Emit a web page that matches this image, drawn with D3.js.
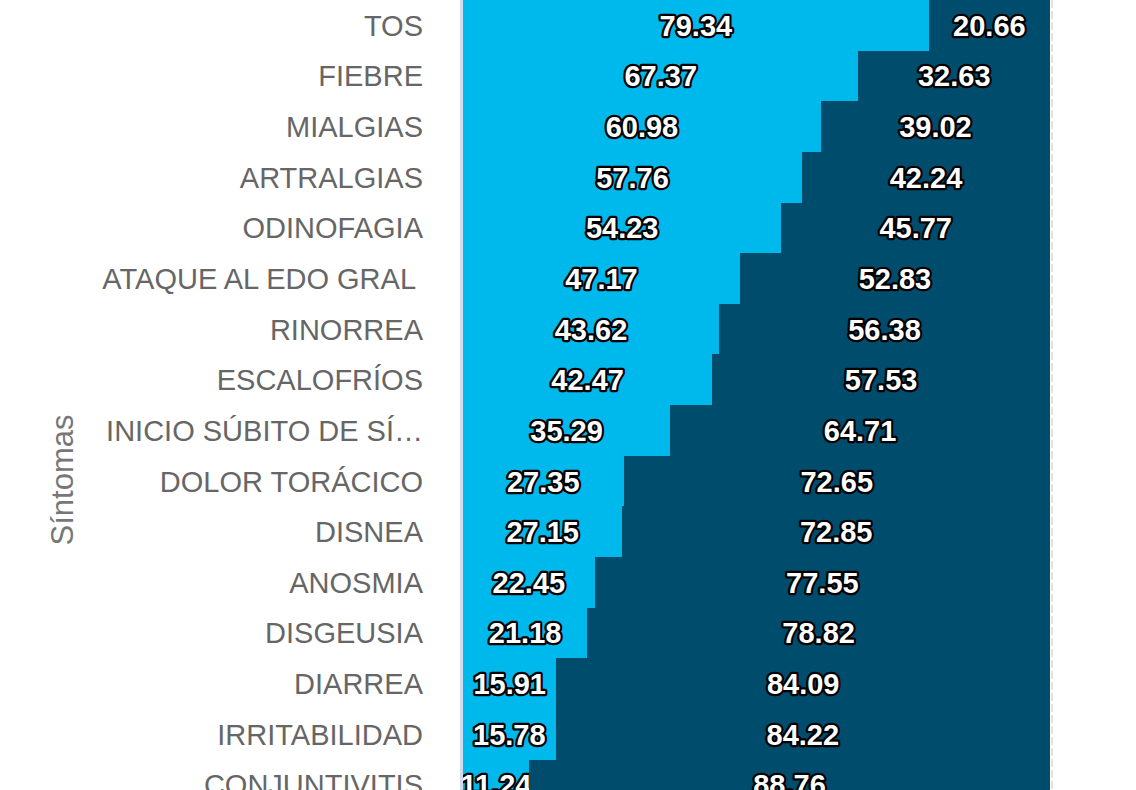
<!DOCTYPE html>
<html>
<head>
<meta charset="utf-8">
<script src="https://cdn.jsdelivr.net/npm/d3@7"></script>
<style>
  html, body { margin: 0; padding: 0; background: #fff; overflow: hidden; }
  svg { display: block; }
</style>
</head>
<body>
<div id="chart"></div>
<script>
(function () {
    "use strict";

    var sintomas = [
        "TOS", "FIEBRE", "MIALGIAS", "ARTRALGIAS", "ODINOFAGIA",
        "ATAQUE AL EDO GRAL ", "RINORREA", "ESCALOFRÍOS", "INICIO SÚBITO DE SÍ…",
        "DOLOR TORÁCICO", "DISNEA", "ANOSMIA", "DISGEUSIA", "DIARREA",
        "IRRITABILIDAD", "CONJUNTIVITIS"
    ];
    var serieSi = [79.34, 67.37, 60.98, 57.76, 54.23, 47.17, 43.62, 42.47, 35.29,
        27.35, 27.15, 22.45, 21.18, 15.91, 15.78, 11.24];
    var serieNo = [20.66, 32.63, 39.02, 42.24, 45.77, 52.83, 56.38, 57.53, 64.71,
        72.65, 72.85, 77.55, 78.82, 84.09, 84.22, 88.76];
    var colores = ["#00B9EC", "#004C6C"];

    var config = {
        width: 1136,
        height: 790,
        plotLeft: 463,
        plotRight: 1050,
        rowHeight: 50.64
    };

    var data = sintomas.map(function (s, i) {
        return { sintoma: s, si: serieSi[i], no: serieNo[i] };
    });

    var svg = d3.select("#chart").append("svg")
        .attr("width", config.width)
        .attr("height", config.height);

    var y = d3.scaleBand()
        .domain(sintomas)
        .range([0, sintomas.length * config.rowHeight])
        .padding(0);

    var x = d3.scaleLinear()
        .domain([0, 100])
        .range([config.plotLeft, config.plotRight]);

    var stack = d3.stack().keys(["si", "no"]);
    var series = stack(data);

    // bars
    var layers = svg.append("g")
        .selectAll("g")
        .data(series)
        .enter().append("g")
        .attr("fill", function (d, i) { return colores[i]; });

    layers.selectAll("rect")
        .data(function (d) { return d; })
        .enter().append("rect")
        .attr("x", function (d) { return x(d[0]); })
        .attr("y", function (d) { return y(d.data.sintoma); })
        .attr("width", function (d) { return x(d[1]) - x(d[0]); })
        .attr("height", y.bandwidth() + 0.5)
        .attr("shape-rendering", "crispEdges");

    // axis line on the left and dashed line on the right
    svg.append("line")
        .attr("x1", x(0) - 1.5).attr("x2", x(0) - 1.5)
        .attr("y1", 0).attr("y2", config.height)
        .attr("stroke", "#d3daed")
        .attr("stroke-width", 3);

    svg.append("line")
        .attr("x1", x(100) + 2).attr("x2", x(100) + 2)
        .attr("y1", 0).attr("y2", config.height)
        .attr("stroke", "#e2e2e2")
        .attr("stroke-width", 2)
        .attr("stroke-dasharray", "8,3");

    // value labels
    layers.selectAll("text")
        .data(function (d) { return d; })
        .enter().append("text")
        .attr("x", function (d) { return (x(d[0]) + x(d[1])) / 2; })
        .attr("y", function (d) { return y(d.data.sintoma) + y.bandwidth() / 2; })
        .attr("dy", "0.36em")
        .attr("text-anchor", "middle")
        .attr("font-family", "Liberation Sans, Arial, sans-serif")
        .attr("font-weight", "bold")
        .attr("font-size", 29)
        .attr("fill", "#fff")
        .attr("stroke", "#000")
        .attr("stroke-width", 4.5)
        .attr("stroke-linejoin", "round")
        .attr("paint-order", "stroke")
        .text(function (d) { return d3.format(".2f")(d[1] - d[0]); });

    // category labels
    svg.append("g")
        .selectAll("text")
        .data(sintomas)
        .enter().append("text")
        .attr("x", 423)
        .attr("y", function (d) { return y(d) + y.bandwidth() / 2; })
        .attr("dy", "0.36em")
        .attr("text-anchor", "end")
        .attr("font-family", "Liberation Sans, Arial, sans-serif")
        .attr("font-size", 29)
        .attr("fill", "#666")
        .style("white-space", "pre")
        .text(function (d) { return d; });

    // axis title
    svg.append("text")
        .attr("transform", "translate(73,480) rotate(-90)")
        .attr("text-anchor", "middle")
        .attr("font-family", "Liberation Sans, Arial, sans-serif")
        .attr("font-size", 31)
        .attr("fill", "#777")
        .text("Síntomas");
})();
</script>
</body>
</html>
